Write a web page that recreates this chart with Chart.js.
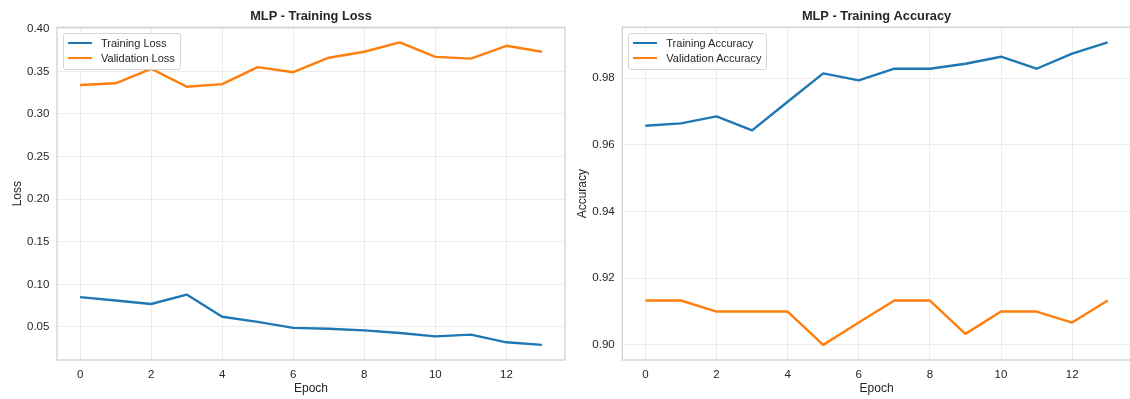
<!DOCTYPE html>
<html>
<head>
<meta charset="utf-8">
<script src="https://cdn.jsdelivr.net/npm/chart.js@4.4.1/dist/chart.umd.min.js"></script>
<style>
  html, body { margin: 0; padding: 0; background: #ffffff; overflow: hidden; }
  body { width: 1130px; height: 399px; position: relative; font-family: "Liberation Sans", Arial, sans-serif; }
  .panel { position: absolute; top: 0; }
  .panel canvas { display: block; }
  .legend {
    position: absolute; background: rgba(255,255,255,0.85);
    border: 1px solid #d5d5d5; border-radius: 3px;
    padding: 1px 5px 3px 4px; color: #262626; font-size: 11px;
  }
  .legend .row { display: flex; align-items: center; height: 15.3px; white-space: nowrap; }
  .legend .swatch { width: 24px; height: 2.4px; margin-right: 9px; }
</style>
</head>
<body>
<div class="panel" id="p1" style="left:0px;"><canvas id="lossChart" width="566" height="399"></canvas></div>
<div class="panel" id="p2" style="left:565px;"><canvas id="accChart" width="567" height="399"></canvas></div>
<script>
// Per-epoch training history of the MLP
const epochs = [0, 1, 2, 3, 4, 5, 6, 7, 8, 9, 10, 11, 12, 13];
const trainLoss = [0.085, 0.081, 0.077, 0.088, 0.062, 0.056, 0.049, 0.048, 0.046, 0.043, 0.039, 0.041, 0.032, 0.029];
const valLoss   = [0.334, 0.336, 0.353, 0.332, 0.335, 0.355, 0.349, 0.366, 0.373, 0.384, 0.367, 0.365, 0.380, 0.373];
const trainAcc  = [0.9657, 0.9664, 0.9685, 0.9643, 0.9729, 0.9814, 0.9793, 0.9828, 0.9828, 0.9843, 0.9864, 0.9828, 0.9873, 0.9907];
const valAcc    = [0.9133, 0.9133, 0.9100, 0.9100, 0.9100, 0.9000, 0.9067, 0.9133, 0.9133, 0.9033, 0.9100, 0.9100, 0.9067, 0.9133];

const BLUE = '#1f77b4';
const ORANGE = '#ff7f0e';
const TEXT = '#262626';
const FONT = '"Liberation Sans", Arial, sans-serif';

// Axis limits padded by 5% of the data span on each side
function padded(values) {
  const lo = Math.min(...values), hi = Math.max(...values);
  const m = (hi - lo) * 0.05;
  return { min: lo - m, max: hi + m };
}

function points(ys) { return epochs.map((e, i) => ({ x: e, y: ys[i] })); }

// Light frame around the plotting area
const framePlugin = {
  id: 'frame',
  afterDraw(chart) {
    const a = chart.chartArea, ctx = chart.ctx;
    ctx.save();
    ctx.strokeStyle = '#d0d0d0';
    ctx.lineWidth = 1.3;
    ctx.strokeRect(a.left, a.top, a.right - a.left, a.bottom - a.top);
    ctx.restore();
  }
};

// HTML legend placed in the upper-left corner of the plot area
function placeLegend(chart, panel) {
  let box = panel.querySelector('.legend');
  if (!box) {
    box = document.createElement('div');
    box.className = 'legend';
    chart.data.datasets.forEach(ds => {
      const row = document.createElement('div');
      row.className = 'row';
      const sw = document.createElement('span');
      sw.className = 'swatch';
      sw.style.background = ds.borderColor;
      const label = document.createElement('span');
      label.textContent = ds.label;
      row.appendChild(sw); row.appendChild(label);
      box.appendChild(row);
    });
    panel.appendChild(box);
  }
  box.style.left = (chart.chartArea.left + 6) + 'px';
  box.style.top = (chart.chartArea.top + 6) + 'px';
}

function makeChart(canvasId, panelId, cfg) {
  const xr = padded(epochs);
  const yr = padded(cfg.series.flatMap(s => s.data));
  const chart = new Chart(document.getElementById(canvasId), {
    type: 'line',
    data: {
      datasets: cfg.series.map(s => ({
        label: s.label,
        data: points(s.data),
        borderColor: s.color,
        backgroundColor: s.color,
        borderWidth: 2.4,
        pointRadius: 0,
        tension: 0,
        borderJoinStyle: 'round',
        fill: false
      }))
    },
    options: {
      responsive: false,
      animation: false,
      events: [],
      layout: { padding: { top: 0, right: cfg.padRight, bottom: 0, left: 0 } },
      plugins: {
        legend: { display: false },
        tooltip: { enabled: false },
        title: {
          display: true,
          text: cfg.title,
          fullSize: false,
          color: TEXT,
          font: { family: FONT, size: 12.8, weight: 'bold' },
          padding: { top: 8.7, bottom: 3.2 }
        }
      },
      scales: {
        x: {
          type: 'linear',
          min: xr.min,
          max: xr.max,
          afterFit(scale) { scale.height = 39; },
          border: { display: false },
          grid: { color: '#ececec', lineWidth: 1, drawTicks: false },
          ticks: {
            stepSize: 2,
            includeBounds: false,
            padding: 7.5,
            color: TEXT,
            font: { family: FONT, size: 11.5 },
            callback: v => String(Math.round(v))
          },
          title: {
            display: true,
            text: 'Epoch',
            color: TEXT,
            font: { family: FONT, size: 12 },
            padding: { top: 0, bottom: 2.8 }
          }
        },
        y: {
          type: 'linear',
          min: yr.min,
          max: yr.max,
          afterFit(scale) { scale.width = cfg.yWidth; },
          border: { display: false },
          grid: { color: '#ececec', lineWidth: 1, drawTicks: false },
          ticks: {
            stepSize: cfg.yStep,
            includeBounds: false,
            padding: 7.6,
            color: TEXT,
            font: { family: FONT, size: 11.5 },
            callback: v => Number(v).toFixed(2)
          },
          title: {
            display: true,
            text: cfg.yTitle,
            color: TEXT,
            font: { family: FONT, size: 12 },
            padding: { top: 10.5, bottom: 0 }
          }
        }
      }
    },
    plugins: [framePlugin]
  });
  placeLegend(chart, document.getElementById(panelId));
  return chart;
}

makeChart('lossChart', 'p1', {
  title: 'MLP - Training Loss',
  yTitle: 'Loss',
  yStep: 0.05,
  yWidth: 57,
  padRight: 1,
  series: [
    { label: 'Training Loss', data: trainLoss, color: BLUE },
    { label: 'Validation Loss', data: valLoss, color: ORANGE }
  ]
});

makeChart('accChart', 'p2', {
  title: 'MLP - Training Accuracy',
  yTitle: 'Accuracy',
  yStep: 0.02,
  yWidth: 57.3,
  padRight: 1.2,
  series: [
    { label: 'Training Accuracy', data: trainAcc, color: BLUE },
    { label: 'Validation Accuracy', data: valAcc, color: ORANGE }
  ]
});
</script>
</body>
</html>
